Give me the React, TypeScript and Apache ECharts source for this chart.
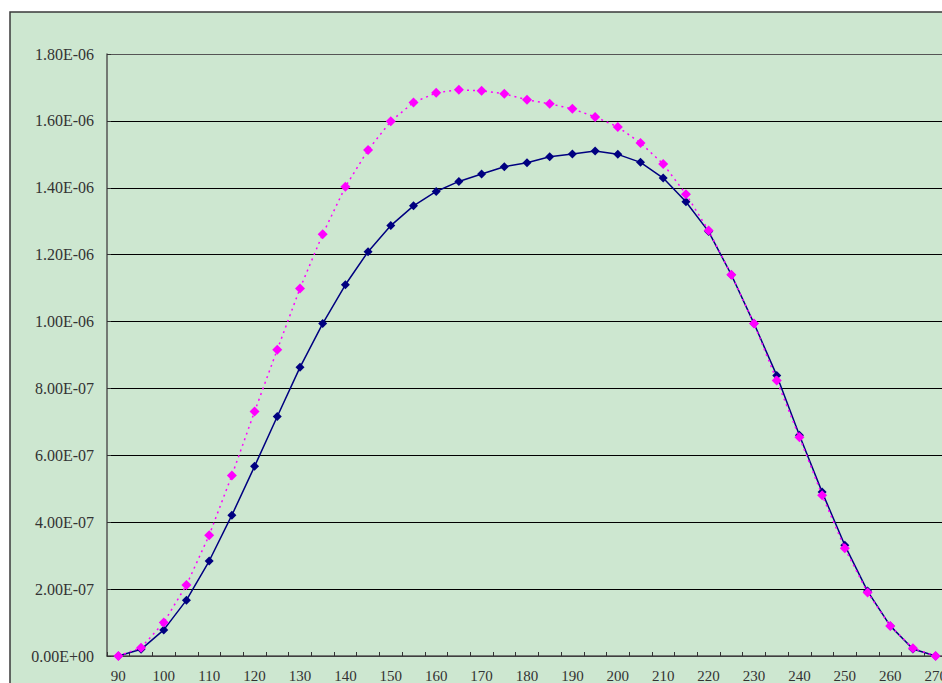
import React, { useEffect, useRef } from "react";
import * as echarts from "echarts";

// Angle categories, 90 to 270 in steps of 5
const categories: string[] = [
  "90", "95", "100", "105", "110", "115", "120", "125", "130", "135",
  "140", "145", "150", "155", "160", "165", "170", "175", "180", "185",
  "190", "195", "200", "205", "210", "215", "220", "225", "230", "235",
  "240", "245", "250", "255", "260", "265", "270",
];

// Solid navy series
const navyValues: number[] = [
  0.0, 2.0e-8, 7.8e-8, 1.67e-7, 2.84e-7, 4.21e-7, 5.67e-7, 7.16e-7, 8.63e-7, 9.94e-7,
  1.11e-6, 1.209e-6, 1.287e-6, 1.346e-6, 1.389e-6, 1.419e-6, 1.441e-6, 1.463e-6, 1.475e-6, 1.493e-6,
  1.501e-6, 1.51e-6, 1.5e-6, 1.476e-6, 1.429e-6, 1.358e-6, 1.269e-6, 1.14e-6, 9.94e-7, 8.39e-7,
  6.6e-7, 4.9e-7, 3.31e-7, 1.94e-7, 9.0e-8, 2.1e-8, 0.0,
];

// Dotted magenta series
const magentaValues: number[] = [
  0.0, 2.5e-8, 1.0e-7, 2.12e-7, 3.61e-7, 5.4e-7, 7.31e-7, 9.16e-7, 1.099e-6, 1.261e-6,
  1.403e-6, 1.513e-6, 1.599e-6, 1.655e-6, 1.684e-6, 1.693e-6, 1.69e-6, 1.681e-6, 1.663e-6, 1.651e-6,
  1.636e-6, 1.612e-6, 1.582e-6, 1.534e-6, 1.471e-6, 1.381e-6, 1.272e-6, 1.14e-6, 9.94e-7, 8.24e-7,
  6.54e-7, 4.81e-7, 3.22e-7, 1.9e-7, 9.0e-8, 2.3e-8, 0.0,
];

const Y_MAX = 1.8e-6;
const Y_STEP = 2e-7;

function sci(v: number): string {
  if (Math.abs(v) < 1e-15) return "0.00E+00";
  let e = Math.floor(Math.log10(Math.abs(v)));
  let m = v / Math.pow(10, e);
  if (Math.abs(m) >= 9.995) {
    m /= 10;
    e += 1;
  }
  const sign = e < 0 ? "-" : "+";
  const exp = String(Math.abs(e)).padStart(2, "0");
  return m.toFixed(2) + "E" + sign + exp;
}

const labelFont = {
  color: "#333333",
  fontFamily: "'Liberation Serif', 'DejaVu Serif', serif",
};

export default function App() {
  const ref = useRef<HTMLDivElement>(null);

  useEffect(() => {
    if (!ref.current) return;
    const chart = echarts.init(ref.current, null, { renderer: "svg" });
    const gridColors = Array.from({ length: 10 }, (_, i) => (i === 9 ? "#555555" : "#000000"));
    chart.setOption({
      animation: false,
      backgroundColor: "#ffffff",
      graphic: [
        {
          type: "rect",
          z: -10,
          shape: { x: 10, y: 12, width: 1000, height: 1000 },
          style: { fill: "#cde7d0", stroke: "#3a3a3a", lineWidth: 1.5 },
        },
      ],
      grid: { left: 107, top: 54, width: 840, height: 603 },
      xAxis: {
        type: "category",
        data: categories,
        boundaryGap: true,
        axisLine: { show: true, lineStyle: { color: "#555555", width: 1.5 } },
        axisTick: { show: true, inside: true, length: 4, interval: 0, lineStyle: { color: "#333333" } },
        axisLabel: { ...labelFont, fontSize: 15, interval: 1, margin: 12 },
        splitLine: { show: false },
      },
      yAxis: {
        type: "value",
        min: 0,
        max: Y_MAX,
        interval: Y_STEP,
        axisLine: { show: true, lineStyle: { color: "#555555", width: 1.5 } },
        axisTick: { show: true, inside: true, length: 4, lineStyle: { color: "#333333" } },
        axisLabel: { ...labelFont, fontSize: 16, margin: 13, formatter: (v: number) => sci(v) },
        splitLine: { show: true, lineStyle: { color: gridColors, width: 1 } },
      },
      series: [
        {
          type: "line",
          data: navyValues,
          symbol: "diamond",
          symbolSize: 9,
          itemStyle: { color: "#000080" },
          lineStyle: { color: "#000080", width: 1.5 },
          z: 2,
        },
        {
          type: "line",
          data: magentaValues,
          symbol: "diamond",
          symbolSize: 10,
          itemStyle: { color: "#ff00ff" },
          lineStyle: { color: "#ff00ff", width: 1.5, type: [2, 4] },
          z: 3,
        },
      ],
    });
    return () => chart.dispose();
  }, []);

  return (
    <div
      style={{
        position: "fixed",
        left: 0,
        top: 0,
        width: 942,
        height: 683,
        overflow: "hidden",
        background: "#ffffff",
      }}
    >
      <div ref={ref} style={{ width: 960, height: 683 }} />
    </div>
  );
}
